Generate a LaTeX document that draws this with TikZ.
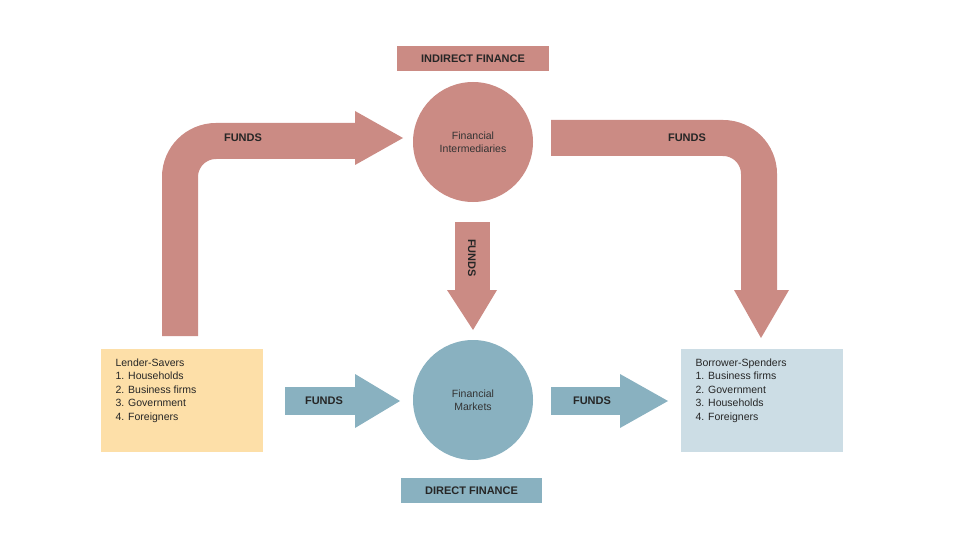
\documentclass[tikz,border=0pt]{standalone}
\usepackage{fontspec}
\setmainfont{Liberation Sans}
\begin{document}
\begin{tikzpicture}[x=1pt,y=-1pt,
  pinkc/.style={fill=pk,draw=none},
  bluec/.style={fill=bl,draw=none},
  band/.style={line width=36pt,line cap=butt},
  lbl/.style={font=\bfseries\fontsize{11}{13}\selectfont,text=black!85},
  boxtxt/.style={font=\fontsize{10.5}{13.5}\selectfont,align=left,text=black!85,anchor=north west},
  circtxt/.style={font=\fontsize{10.5}{13}\selectfont,align=center,text=black!80}]
\definecolor{pk}{HTML}{CB8B84}
\definecolor{bl}{HTML}{89B1C0}
\definecolor{ye}{HTML}{FDDFA8}
\definecolor{lb}{HTML}{CCDDE5}
\useasboundingbox (0,0) rectangle (960,540);
% labels
\node[pinkc,minimum width=152pt,minimum height=25pt,lbl] (ind) at (473,58.5) {INDIRECT FINANCE};
\node[bluec,minimum width=141pt,minimum height=25pt,lbl] (dir) at (471.5,490.5) {DIRECT FINANCE};
% circles
\node[circle,pinkc,minimum size=120pt,circtxt] (fi) at (473,142) {Financial\\Intermediaries};
\node[circle,bluec,minimum size=120pt,circtxt] (fm) at (473,400) {Financial\\Markets};
% boxes
\node[fill=ye,minimum width=162pt,minimum height=103pt,anchor=north west] (ls) at (101,349) {};
\node[boxtxt] at (112,355) {Lender-Savers\\1. Households\\2. Business firms\\3. Government\\4. Foreigners};
\node[fill=lb,minimum width=162pt,minimum height=103pt,anchor=north west] (bs) at (681,349) {};
\node[boxtxt] at (692,355) {Borrower-Spenders\\1. Business firms\\2. Government\\3. Households\\4. Foreigners};
% left bent arrow
\coordinate (a1) at (180,336);
\coordinate (a2) at (180,141);
\coordinate (a3) at (356,141);
\draw[pk,band,rounded corners=36pt] (a1) -- (a2) -- (a3);
\fill[pk] (355,111) -- (403,138) -- (355,165) -- cycle;
\node[lbl] (f1) at (243,138) {FUNDS};
% right bent arrow
\coordinate (b1) at (551,138);
\coordinate (b2) at (759,138);
\coordinate (b3) at (759,291);
\draw[pk,band,rounded corners=36pt] (b1) -- (b2) -- (b3);
\fill[pk] (734,290) -- (761,338) -- (789,290) -- cycle;
\node[lbl] (f2) at (687,138) {FUNDS};
% middle down arrow
\fill[pk] (455,222) rectangle (490,291);
\fill[pk] (447,290) -- (473,330) -- (497,290) -- cycle;
\node[lbl,rotate=-90] (f3) at (472,258) {FUNDS};
% blue arrows
\fill[bl] (285,387) rectangle (356,415);
\fill[bl] (355,374) -- (400,401) -- (355,428) -- cycle;
\node[lbl] (f4) at (324,401) {FUNDS};
\fill[bl] (551,387) rectangle (621,415);
\fill[bl] (620,374) -- (668,401) -- (620,428) -- cycle;
\node[lbl] (f5) at (592,401) {FUNDS};
\end{tikzpicture}
\end{document}
